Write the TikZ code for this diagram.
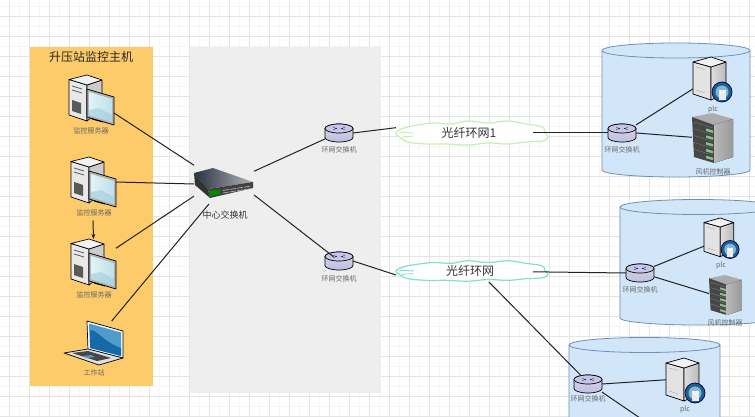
\documentclass[tikz,border=0pt]{standalone}
\usepackage{fontspec}
\usetikzlibrary{arrows.meta}
\setmainfont{Noto Sans CJK SC}
\definecolor{orangebg}{HTML}{FDCB69}
\definecolor{graybg}{HTML}{EEEEEE}
\definecolor{cylfill}{HTML}{D2E6FA}
\definecolor{cyledge}{HTML}{6F8FB5}
\definecolor{gridmaj}{HTML}{E4E4E4}
\definecolor{gridmin}{HTML}{F5F5F5}
\definecolor{linecol}{HTML}{222222}
\definecolor{lab}{HTML}{666666}
\definecolor{scrA}{HTML}{E2F3F6}
\definecolor{scrB}{HTML}{BFE0EA}
\definecolor{scrC}{HTML}{A6D0E2}
\definecolor{lapA}{HTML}{4F9BCB}
\definecolor{lapB}{HTML}{1769AA}
\definecolor{ringcol}{HTML}{1F5F8F}
\definecolor{lockbg}{HTML}{7FB8D6}
\definecolor{swA}{HTML}{2A3040}
\definecolor{swB}{HTML}{B4B6BC}
\definecolor{cloudA}{HTML}{C8EDB0}
\definecolor{cloudB}{HTML}{7FE0D0}
\tikzset{
  x=1pt,y=-1pt,
  box/.style={inner sep=0pt,outer sep=0pt,anchor=north west},
  tinylab/.style={inner sep=0pt,text=lab,font=\fontsize{7}{8}\selectfont},
  conn/.style={draw=linecol,line width=1pt},
  edge/.style={draw=black,line width=0.7pt,line join=round},
  cyl/.style={fill=cylfill,draw=cyledge,line width=0.8pt},
  pics/server/.style={code={
    \path[edge,fill=gray!18] (0,4.5)--(18,10)--(18,46)--(0,40)--cycle;
    \path[edge,fill=gray!40] (18,10)--(33,5)--(33,34)--(18,46)--cycle;
    \path[edge,fill=gray!10] (0,4.5)--(18,0)--(33,5)--(18,10)--cycle;
    \fill[gray!70!black] (3,25)--(12,28)--(12,39)--(3,36)--cycle;
    \draw[gray!70!black,line width=0.8pt] (3,11)--(13,14) (3,15)--(13,18);
    \path[edge,fill=gray!60] (18,14)--(45,22)--(45,50)--(18,42)--cycle;
    \path[left color=scrA,right color=scrB] (20,17)--(43,24)--(43,47)--(20,40)--cycle;
    \fill[scrC,opacity=.7] (20,35)--(30,33)--(43,40)--(43,47)--(20,40)--cycle;
    \draw[black,line width=1pt] (23,44)--(34,47);
  }},
  pics/laptop/.style={code={
    \path[edge,fill=white] (23,0)--(59,10)--(59,37)--(24,29)--cycle;
    \path[fill=lapA] (25,2.5)--(57,11.5)--(57,35)--(26,27)--cycle;
    \path[fill=lapB] (26,9)..controls (34,9) and (38,20) .. (57,27)--(57,35)--(26,27)--cycle;
    \path[edge,fill=gray!25] (0,32)--(24,28)--(59,37)--(35,44)--cycle;
    \fill[gray!55!black] (8,32)--(24,30)--(47,37)--(33,40)--cycle;
    \fill[lapA] (19,35)--(27,34)--(31,36)--(23,37)--cycle;
  }},
  pics/router/.style={code={
    \path[edge,top color=gray!30,bottom color=gray!55!blue!35] (0,13.5) arc[start angle=180,delta angle=-180,x radius=14,y radius=4.5]--(28,4.5) arc[start angle=0,delta angle=-180,x radius=14,y radius=4.5]--cycle;
    \path[edge,fill=gray!50!blue!30] (14,4.5) ellipse[x radius=14,y radius=4.5];
    \draw[gray!40!black,line width=0.4pt] (8,3)--(12,5) (16,5)--(20,3) (8,6)--(12,4) (16,4)--(20,6);
  }},
  pics/plc/.style={code={
    \path[edge,fill=gray!22] (0,5)--(18,10)--(18,43)--(0,37)--cycle;
    \path[edge,left color=gray!25,right color=gray!55] (18,10)--(33,5)--(33,36)--(18,43)--cycle;
    \path[edge,fill=gray!10] (0,5)--(18,0)--(33,5)--(18,10)--cycle;
    \draw[gray!70,line width=0.4pt] (3,10)--(12,12.5) (3,33)--(12,36);
    \path[draw=black!70!blue,line width=0.7pt,fill=ringcol] (29,35) circle[radius=10];
    \fill[lockbg] (29,35) circle[radius=6.5];
    \fill[white!85!gray] (25.5,33)--(32.5,33)--(32.5,43)--(25.5,43)--cycle;
    \draw[white,line width=1.1pt] (27,33) arc[start angle=180,delta angle=-180,x radius=2,y radius=3];
  }},
  pics/rack/.style={code={
    \fill[gray!65] (0,4)--(20,0)--(41,6)--(22,12)--cycle;
    \fill[black!72] (0,4)--(22,12)--(22,50)--(2,44)--cycle;
    \fill[left color=gray!55,right color=gray!80] (22,12)--(41,6)--(41,44)--(22,50)--cycle;
    \foreach \k in {0,1,2,3,4}{
      \fill[green!35!gray!70] (14,15.5+6.8*\k)--(21,17.5+6.8*\k)--(21,20+6.8*\k)--(14,18+6.8*\k)--cycle;
      \draw[gray,line width=0.3pt] (2,9+6.8*\k)--(21,15+6.8*\k);
    }
  }},
  pics/switchbox/.style={code={
    \path[left color=swA,right color=swB] (0,5)--(19,0)--(59,14)--(14,21)--cycle;
    \fill[black!80] (0,5)--(14,21)--(16,30)--(1,17)--cycle;
    \fill[black!75] (14,21)--(59,14)--(59,20)--(16,30)--cycle;
    \fill[green!55!black] (15,23)--(26,21.5)--(26,26)--(16,28)--cycle;
    \foreach \k in {0,1,2,3}{
      \draw[gray!60,line width=0.7pt] (29+7*\k,22.5-1.1*\k)--(35+7*\k,21.5-1.1*\k);
      \draw[gray!60,line width=0.7pt] (29+7*\k,25-1.1*\k)--(35+7*\k,24-1.1*\k);
    }
  }},
  pics/cloudshape/.style n args={1}{code={
    \path[draw=#1,line width=1.2pt,fill=white] plot[smooth cycle,tension=0.7] coordinates {
      (0,0) (8,-5) (22,-8) (38,-10) (55,-9) (72,-12) (92,-10) (112,-12) (130,-9) (146,-6) (149,0)
      (152,4) (146,8) (130,9) (112,11) (92,10) (72,12) (50,11) (30,11) (12,9) (5,5)};
    \draw[#1,line width=0.9pt] (3,0) .. controls (8,-2) and (12,0) .. (18,0);
    \draw[#1,line width=0.9pt] (6,4) .. controls (10,3) and (14,4) .. (17,3);
  }}
}
\begin{document}
\begin{tikzpicture}
\useasboundingbox (0,0) rectangle (755,417);
\clip (0,0) rectangle (755,417);
\fill[white] (0,0) rectangle (755,417);
% grid
\foreach \gx in {-0.5,19.5,...,760}{\draw[gridmin,line width=0.5pt] (\gx,0)--(\gx,417);}
\foreach \gy in {6.5,26.5,...,420}{\draw[gridmin,line width=0.5pt] (0,\gy)--(755,\gy);}
\foreach \gx in {9.5,29.5,...,760}{\draw[gridmaj,line width=0.6pt] (\gx,0)--(\gx,417);}
\foreach \gy in {16.5,36.5,...,420}{\draw[gridmaj,line width=0.6pt] (0,\gy)--(755,\gy);}
% panels
\fill[orangebg] (30,47) rectangle (153,386);
\fill[graybg] (190,47) rectangle (381,393);
% cylinders
\path[cyl] (602,50.5)--(602,170) arc[start angle=180,delta angle=-180,x radius=74,y radius=7]--(750,50.5) arc[start angle=0,delta angle=-180,x radius=74,y radius=7.5]--cycle;
\path[cyl] (602,50.5) arc[start angle=180,delta angle=-180,x radius=74,y radius=7.5];
\path[cyl] (620,207)--(620,318) arc[start angle=180,delta angle=-180,x radius=78,y radius=7]--(776,207) arc[start angle=0,delta angle=-180,x radius=78,y radius=7.5]--cycle;
\path[cyl] (620,207) arc[start angle=180,delta angle=-180,x radius=78,y radius=7.5];
\path[cyl] (569,345)--(569,440)--(720,440)--(720,345) arc[start angle=0,delta angle=-180,x radius=75.5,y radius=7.5]--cycle;
\path[cyl] (569,345) arc[start angle=180,delta angle=-180,x radius=75.5,y radius=7.5];
% title
\node[inner sep=0pt,text=black!85,font=\fontsize{12}{14}\selectfont] (title) at (91,57) {升压站监控主机};
% servers
\node[box,minimum width=45pt,minimum height=50pt] (srv1) at (69,75) {};
\pic at (69,75) {server};
\node[tinylab] (l1) at (91,131) {监控服务器};
\node[box,minimum width=45pt,minimum height=50pt] (srv2) at (71,157) {};
\pic at (71,157) {server};
\node[tinylab] (l2) at (94,213) {监控服务器};
\node[box,minimum width=45pt,minimum height=50pt] (srv3) at (71,239) {};
\pic at (71,239) {server};
\node[tinylab] (l3) at (94,295) {监控服务器};
\node[box,minimum width=59pt,minimum height=45pt] (lap) at (64,321) {};
\pic at (64,321) {laptop};
\node[tinylab] (l4) at (94,373) {工作站};
% switch
\node[box,minimum width=60pt,minimum height=40pt] (sw) at (194,164) {};
\pic at (194,168) {switchbox};
\node[inner sep=0pt,text=black!80,font=\fontsize{9}{10}\selectfont] (swl) at (225,215) {中心交换机};
% routers
\node[box,minimum width=28pt,minimum height=18pt] (r1) at (325,124) {};
\pic at (325,124) {router};
\node[tinylab] (rl1) at (339,150) {环网交换机};
\node[box,minimum width=28pt,minimum height=18pt] (r2) at (325,252) {};
\pic at (325,252) {router};
\node[tinylab] (rl2) at (339,279) {环网交换机};
\node[box,minimum width=28pt,minimum height=18pt] (r3) at (608,124) {};
\pic at (608,124) {router};
\node[tinylab] (rl3) at (622,150) {环网交换机};
\node[box,minimum width=28pt,minimum height=18pt] (r4) at (626,264) {};
\pic at (626,264) {router};
\node[tinylab] (rl4) at (640,290) {环网交换机};
\node[box,minimum width=28pt,minimum height=18pt] (r5) at (574,375) {};
\pic at (574,375) {router};
\node[tinylab] (rl5) at (588,399) {环网交换机};
% plc and racks
\node[box,minimum width=40pt,minimum height=45pt] (p1) at (693,57) {};
\pic at (693,57) {plc};
\node[tinylab] (pl1) at (713,110) {plc};
\node[box,minimum width=41pt,minimum height=50pt] (k1) at (692,113) {};
\pic at (692,113) {rack};
\node[tinylab] (kl1) at (713,172) {风机控制器};
\node[box,minimum width=35pt,minimum height=40pt] (p2) at (704,218) {};
\pic[scale=0.9] at (704,218) {plc};
\node[tinylab] (pl2) at (721,266) {plc};
\node[box,minimum width=33pt,minimum height=40pt] (k2) at (709,275) {};
\pic[xscale=0.8,yscale=0.8] at (709,275) {rack};
\node[tinylab] (kl2) at (725,323) {风机控制器};
\node[box,minimum width=40pt,minimum height=45pt] (p3) at (666,358) {};
\pic at (666,358) {plc};
\node[tinylab] (pl3) at (685,410) {plc};
\coordinate (off) at (640,418);
% clouds
\node[box,minimum width=152pt,minimum height=26pt] (c1) at (396,120) {};
\pic at (396,133) {cloudshape={cloudA}};
\node[inner sep=0pt,text=black!80,font=\fontsize{12}{14}\selectfont] (c1t) at (469,133) {光纤环网1};
\node[box,minimum width=152pt,minimum height=22pt] (c2) at (396,260) {};
\pic[yscale=0.85] at (396,271) {cloudshape={cloudB}};
\node[inner sep=0pt,text=black!80,font=\fontsize{12}{14}\selectfont] (c2t) at (470,271) {光纤环网};
% connectors
\draw[conn] (srv1.-30) -- (sw.148);
\draw[conn] (srv2.east) -- (sw.west);
\draw[conn] (srv3.35) -- (sw.202);
\draw[conn] (lap.51) -- (sw.233);
\draw[conn,-{Stealth[length=5pt,width=4pt]}] (l2.south -| srv3.north) ++(-0.5,4) -- (srv3.north);
\draw[conn] (sw.23) -- (r1.203);
\draw[conn,shorten >=7pt] (sw.-20) -- (r2.center);
\draw[conn] (r1.east) -- (c1.176);
\draw[conn] (r2.east) -- (c2.183);
\draw[conn,shorten <=61pt] (c1.center) -- (r3.west);
\draw[conn,shorten <=61pt] (c2.center) -- (r4.west);
\draw[conn] (c2.-33) -- (r5.130);
\draw[conn] (r3.30) -- (p1.205);
\draw[conn] (r3.east) -- (k1.178);
\draw[conn] (r4.25) -- (p2.205);
\draw[conn] (r4.-15) -- (k2.175);
\draw[conn] (r5.east) -- (p3.178);
\draw[conn] (r5.-30) -- (off);
\end{tikzpicture}
\end{document}
